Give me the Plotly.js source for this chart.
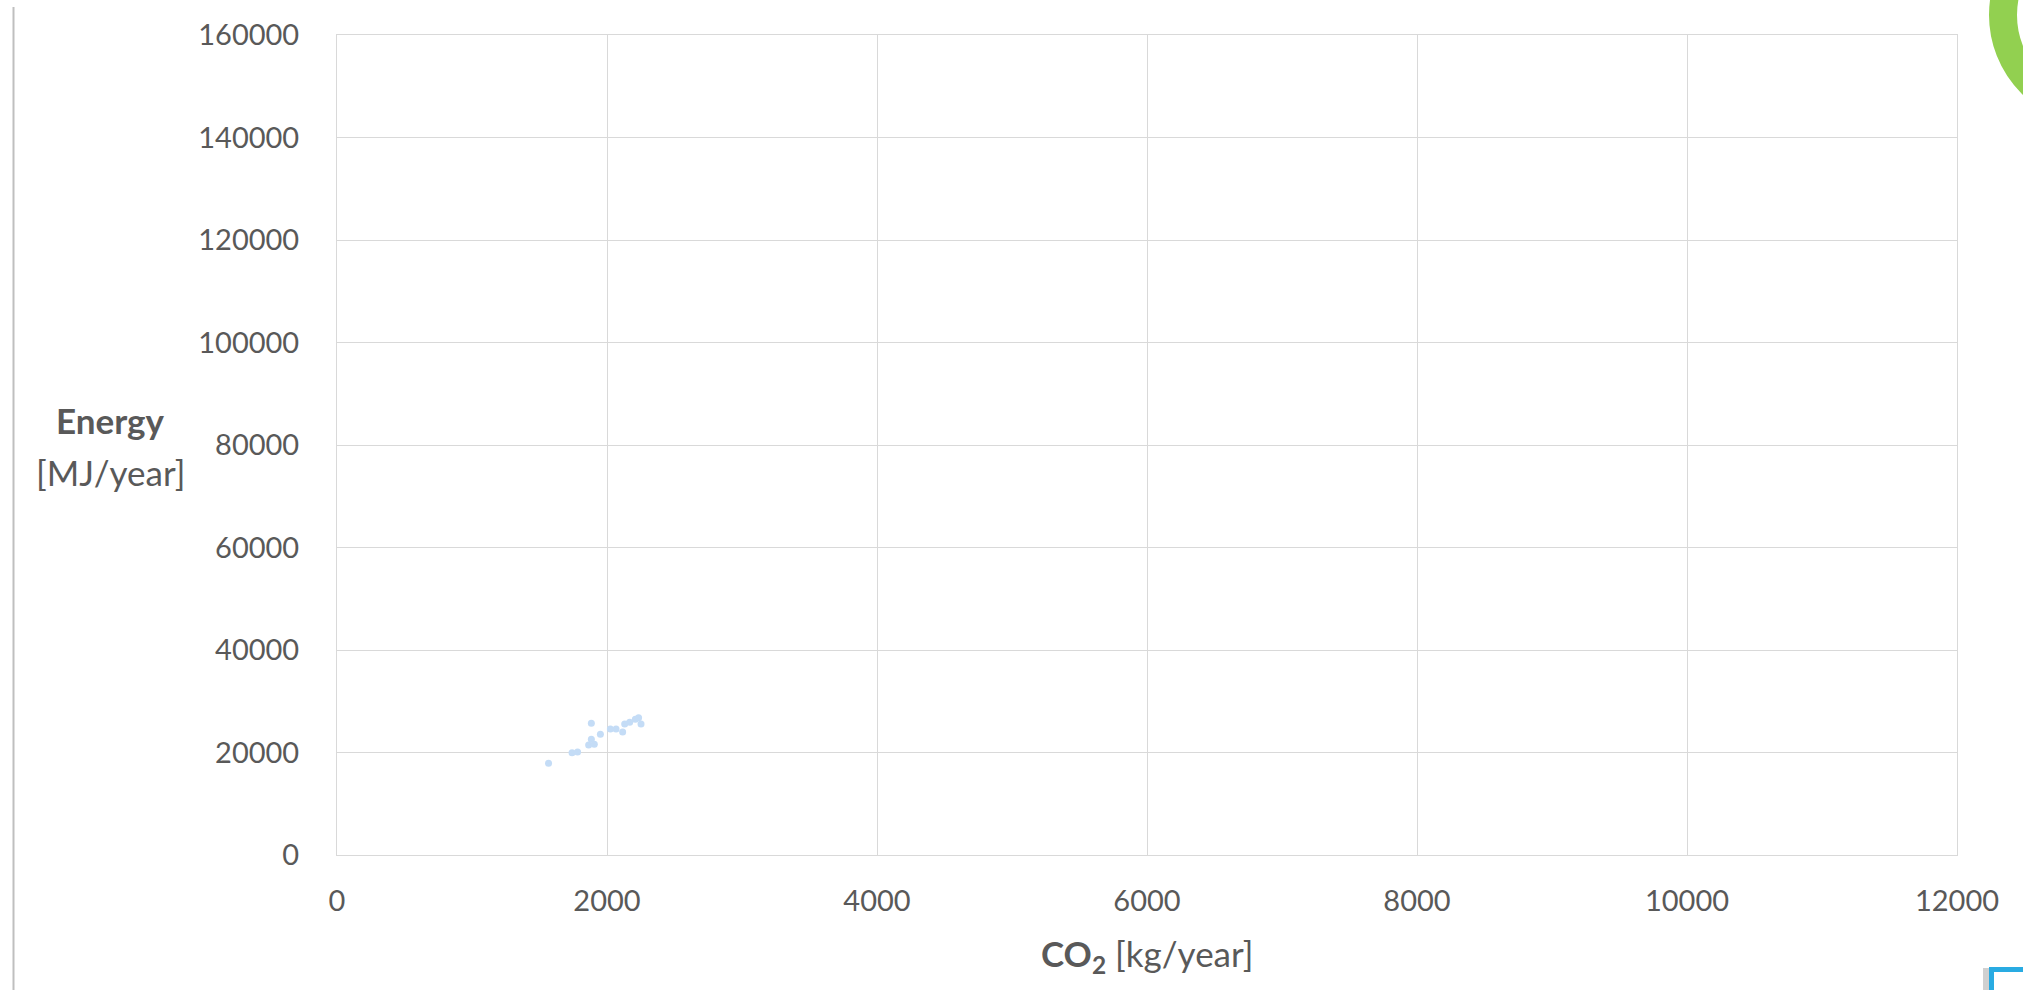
<!DOCTYPE html>
<html>
<head>
<meta charset="utf-8">
<script src="https://cdn.plot.ly/plotly-3.0.1.min.js"></script>
<style>
  html, body { margin: 0; padding: 0; background: #ffffff; }
  #chart { width: 2023px; height: 990px; }
</style>
</head>
<body>
<div id="chart"></div>
<script>
// CO2 emissions [kg/year]
const co2Values = [1567, 1741, 1782, 1884, 1884, 1864, 1906, 1951, 2025, 2067, 2116, 2131, 2168, 2210, 2234, 2252];
// Energy use [MJ/year]
const energyValues = [17900, 19960, 20100, 25700, 22600, 21460, 21600, 23550, 24600, 24600, 24000, 25560, 25900, 26480, 26800, 25560];

const xTickValues = [0, 2000, 4000, 6000, 8000, 10000, 12000];
const yTickValues = [0, 20000, 40000, 60000, 80000, 100000, 120000, 140000, 160000];

const W = 2023, H = 990;
const L = 337, R = 66, T = 35, B = 135;
const PW = W - L - R, PH = H - T - B;
const px = v => (v - L) / PW;          // pixel -> paper x
const py = v => (H - B - v) / PH;      // pixel -> paper y

const textColor = '#595959';
const gridColor = '#d9d9d9';
const fontFam = 'Lato, "Open Sans", sans-serif';

const trace = {
  type: 'scatter',
  mode: 'markers',
  x: co2Values,
  y: energyValues,
  marker: { color: '#c4dcf6', size: 7, line: { width: 0 } },
  hoverinfo: 'x+y'
};

// decorative ring (top right) : center (2100,15), mid radius 97
const ringCx = 2100, ringCy = 15, ringR = 97;

const layout = {
  width: W,
  height: H,
  margin: { l: L, r: R, t: T, b: B, pad: 0 },
  paper_bgcolor: '#ffffff',
  plot_bgcolor: '#ffffff',
  showlegend: false,
  font: { family: fontFam, color: textColor, size: 29 },
  xaxis: {
    range: [0, 12000],
    tickvals: xTickValues,
    ticktext: xTickValues.map(String),
    showgrid: true,
    gridcolor: gridColor,
    gridwidth: 1,
    zeroline: false,
    showline: true,
    linecolor: gridColor,
    linewidth: 1,
    mirror: true,
    ticks: '',
    ticklabelstandoff: 20,
    tickfont: { family: fontFam, size: 29, color: textColor },
    fixedrange: true
  },
  yaxis: {
    range: [0, 160000],
    tickvals: yTickValues,
    ticktext: yTickValues.map(String),
    showgrid: true,
    gridcolor: gridColor,
    gridwidth: 1,
    zeroline: false,
    showline: true,
    linecolor: gridColor,
    linewidth: 1,
    mirror: true,
    ticks: '',
    ticklabelstandoff: 31,
    tickfont: { family: fontFam, size: 29, color: textColor },
    fixedrange: true
  },
  annotations: [
    {
      text: '<b>Energy</b>',
      xref: 'paper', yref: 'paper',
      x: px(110), y: py(420),
      xanchor: 'center', yanchor: 'middle',
      showarrow: false,
      font: { family: fontFam, size: 35, color: textColor }
    },
    {
      text: '[MJ/year]',
      xref: 'paper', yref: 'paper',
      x: px(110), y: py(472),
      xanchor: 'center', yanchor: 'middle',
      showarrow: false,
      font: { family: fontFam, size: 35, color: textColor }
    },
    {
      text: '<b>CO<sub>2</sub></b> [kg/year]',
      xref: 'paper', yref: 'paper',
      x: 0.5, y: py(955),
      xanchor: 'center', yanchor: 'middle',
      showarrow: false,
      font: { family: fontFam, size: 35, color: textColor }
    }
  ],
  shapes: [
    // left vertical rule
    {
      type: 'line', xref: 'paper', yref: 'paper',
      x0: px(13.5), x1: px(13.5), y0: py(7), y1: py(990),
      line: { color: '#bfbfbf', width: 2 }
    },
    // green ring (top right)
    {
      type: 'circle', xref: 'paper', yref: 'paper',
      x0: px(ringCx - ringR), x1: px(ringCx + ringR),
      y0: py(ringCy + ringR), y1: py(ringCy - ringR),
      line: { color: '#92d050', width: 28 },
      fillcolor: 'rgba(0,0,0,0)'
    },
    // shadow of blue box
    {
      type: 'rect', xref: 'paper', yref: 'paper',
      x0: px(1983), x1: px(1989), y0: py(1000), y1: py(968),
      line: { width: 0 },
      fillcolor: 'rgba(120,120,120,0.35)'
    },
    // blue box (bottom right)
    {
      type: 'rect', xref: 'paper', yref: 'paper',
      x0: px(1991.5), x1: px(2100), y0: py(1100), y1: py(969.5),
      line: { color: '#29abe2', width: 5 },
      fillcolor: '#ffffff'
    }
  ]
};

Plotly.newPlot('chart', [trace], layout, { displayModeBar: false, staticPlot: true });
</script>
</body>
</html>
